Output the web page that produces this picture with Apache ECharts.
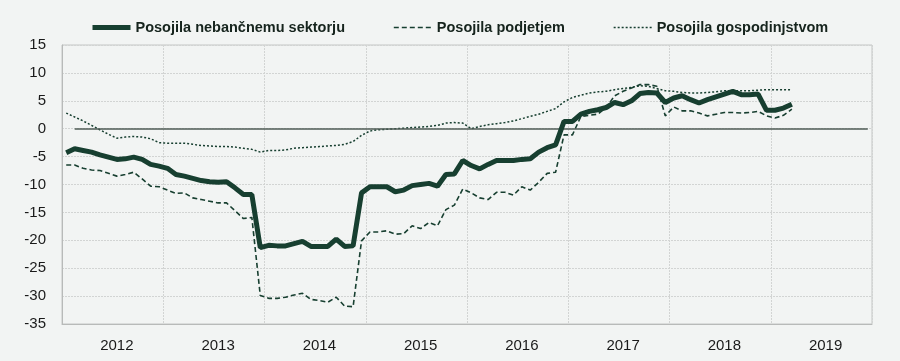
<!DOCTYPE html>
<html>
<head>
<meta charset="utf-8">
<script src="https://cdn.jsdelivr.net/npm/echarts@6/dist/echarts.min.js"></script>
<style>
html,body{margin:0;padding:0;background:#f2f4f3;}
#chart{width:900px;height:361px;}
</style>
</head>
<body>
<div id="chart"></div>
<script>
// Monthly categories Jan 2012 – Dec 2019
var years = [2012, 2013, 2014, 2015, 2016, 2017, 2018, 2019];
var months = [];
years.forEach(function (y) { for (var m = 1; m <= 12; m++) months.push(y + '-' + (m < 10 ? '0' + m : m)); });

var seriesNames = ['Posojila nebančnemu sektorju', 'Posojila podjetjem', 'Posojila gospodinjstvom'];

var nebancni = [
  -4.3, -3.6, -3.9, -4.2, -4.7, -5.1, -5.5, -5.4, -5.1, -5.5, -6.4, -6.7,
  -7.1, -8.2, -8.5, -8.9, -9.3, -9.5, -9.6, -9.5, -10.6, -11.8, -11.8, -21.3,
  -20.9, -21.0, -21.0, -20.6, -20.2, -21.1, -21.1, -21.1, -19.8, -21.1, -21.0, -11.5,
  -10.4, -10.4, -10.4, -11.3, -11.0, -10.2, -10.0, -9.8, -10.3, -8.2, -8.1, -5.7,
  -6.6, -7.2, -6.4, -5.7, -5.7, -5.7, -5.5, -5.4, -4.2, -3.4, -2.9, 1.3,
  1.3, 2.6, 3.1, 3.4, 3.8, 4.7, 4.3, 5.0, 6.3, 6.5, 6.4, 4.7,
  5.5, 5.9, 5.2, 4.6, 5.2, 5.7, 6.2, 6.7, 6.1, 6.1, 6.2, 3.3,
  3.3, 3.7, 4.4
];
var podjetja = [
  -6.5, -6.5, -7.1, -7.4, -7.5, -8.0, -8.5, -8.2, -7.8, -9.0, -10.3, -10.4,
  -11.0, -11.6, -11.5, -12.4, -12.7, -13.0, -13.3, -13.3, -14.7, -16.1, -15.9, -29.9,
  -30.4, -30.4, -30.2, -29.8, -29.5, -30.6, -30.8, -31.1, -30.2, -31.8, -31.9, -20.1,
  -18.5, -18.5, -18.3, -18.9, -18.8, -17.4, -17.9, -16.8, -17.4, -14.5, -13.7, -10.8,
  -11.5, -12.4, -12.7, -11.4, -11.4, -11.9, -10.4, -11.0, -9.6, -8.0, -7.8, -1.1,
  -1.1, 2.2, 2.4, 2.6, 3.8, 5.9, 6.7, 7.3, 7.9, 7.9, 7.6, 2.3,
  3.9, 3.2, 3.2, 2.8, 2.3, 2.6, 2.9, 2.9, 2.8, 2.9, 3.1, 2.3,
  1.9, 2.4, 3.5
];
var gospodinjstva = [
  2.8, 2.1, 1.4, 0.6, -0.2, -1.0, -1.7, -1.5, -1.4, -1.5, -1.8, -2.5,
  -2.6, -2.6, -2.6, -2.8, -3.0, -3.1, -3.2, -3.2, -3.3, -3.5, -3.7, -4.2,
  -3.9, -3.9, -3.8, -3.5, -3.4, -3.3, -3.2, -3.1, -3.0, -2.8, -2.3, -1.2,
  -0.4, -0.2, -0.1, 0.0, 0.1, 0.2, 0.3, 0.4, 0.6, 1.0, 1.1, 1.0,
  0.0, 0.4, 0.7, 0.9, 1.1, 1.4, 1.8, 2.2, 2.6, 3.1, 3.6, 4.8,
  5.6, 6.0, 6.4, 6.6, 6.7, 7.0, 7.2, 7.4, 7.7, 7.6, 7.2, 6.8,
  6.7, 6.5, 6.4, 6.4, 6.5, 6.6, 6.8, 6.8, 6.8, 6.8, 6.9, 7.0,
  7.0, 7.0, 7.0
];
var yTicks = { min: -35, max: 15, interval: 5 };

var FONT = "'Liberation Sans', Arial, sans-serif";
var GREEN = '#173f30';
var lineStyles = [
  { color: GREEN, width: 5, type: 'solid' },
  { color: GREEN, width: 1.6, type: [5, 3] },
  { color: GREEN, width: 1.5, type: [2, 2] }
];

var chart = echarts.init(document.getElementById('chart'), null, { renderer: 'canvas' });
chart.setOption({
  backgroundColor: '#f2f4f3',
  animation: false,
  textStyle: { fontFamily: FONT },
  legend: {
    top: 15,
    left: 85,
    itemWidth: 38,
    itemHeight: 12,
    itemGap: 48,
    textStyle: { fontFamily: FONT, fontSize: 14.5, fontWeight: 'bold', color: '#16241d' },
    itemStyle: { opacity: 0 },
    data: seriesNames.map(function (n, i) {
      return { name: n, lineStyle: lineStyles[i], itemStyle: { opacity: 0 } };
    })
  },
  grid: {
    left: 62, right: 28, top: 45, bottom: 37,
    show: true, borderColor: '#c4c6c5', borderWidth: 1, backgroundColor: 'transparent'
  },
  xAxis: {
    type: 'category',
    data: months,
    boundaryGap: true,
    axisLine: { show: true, onZero: false, lineStyle: { color: '#b8bab9', width: 1 } },
    axisTick: { show: false },
    axisLabel: {
      interval: function (i) { return i % 12 === 6; },
      formatter: function (v) { return v.slice(0, 4); },
      fontFamily: FONT, fontSize: 15, color: '#1a1a1a', margin: 14
    },
    splitLine: {
      show: true,
      interval: function (i) { return i % 12 === 0; },
      lineStyle: { color: '#d2d4d3', type: [2, 1], width: 1 }
    }
  },
  yAxis: {
    type: 'value',
    min: yTicks.min, max: yTicks.max, interval: yTicks.interval,
    axisLine: { show: true, lineStyle: { color: '#b8bab9', width: 1 } },
    axisTick: { show: false },
    axisLabel: { fontFamily: FONT, fontSize: 15, color: '#1a1a1a', margin: 16 },
    splitLine: { show: true, lineStyle: { color: '#d2d4d3', type: [2, 1], width: 1 } }
  },
  series: [
    {
      name: seriesNames[0], type: 'line', data: nebancni, symbol: 'none', z: 5,
      lineStyle: lineStyles[0], itemStyle: { color: GREEN }
    },
    {
      name: seriesNames[1], type: 'line', data: podjetja, symbol: 'none', z: 4,
      lineStyle: lineStyles[1], itemStyle: { color: GREEN }
    },
    {
      name: seriesNames[2], type: 'line', data: gospodinjstva, symbol: 'none', z: 3,
      lineStyle: lineStyles[2], itemStyle: { color: GREEN },
      markLine: {
        silent: true, symbol: 'none', label: { show: false },
        lineStyle: { color: '#4f5c56', width: 1.5, type: 'solid' },
        data: [[{ coord: [months[1], 0] }, { coord: [months[months.length - 1], 0] }]]
      }
    }
  ]
});
</script>
</body>
</html>
